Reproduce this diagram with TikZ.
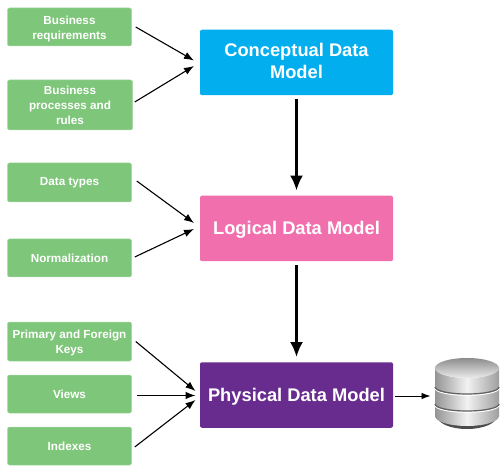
\documentclass[tikz,border=0pt]{standalone}
\usepackage{fontspec}
\setmainfont{Liberation Sans}
\usetikzlibrary{arrows.meta}
\definecolor{inbox}{HTML}{7EC67A}
\definecolor{cblue}{HTML}{03AEEF}
\definecolor{lpink}{HTML}{F26FAE}
\definecolor{ppurple}{HTML}{682C8E}
\tikzset{
  x=1pt,y=-1pt,
  inputbox/.style={draw=inbox!70!white,line width=.5pt,fill=inbox,rounded corners=2pt,inner sep=0pt,text=white,
    font=\fontsize{11.7}{15}\selectfont\bfseries,align=center},
  modelbox/.style={fill=#1,rounded corners=2pt,inner sep=0pt,text=white,minimum width=193pt,minimum height=65.5pt,
    font=\fontsize{18.3}{22}\selectfont\bfseries,align=center},
  feed/.style={line width=1.1pt,-{Latex[length=10pt,width=7.5pt]}},
  flow/.style={line width=2.6pt,-{Latex[length=15pt,width=13pt]}},
}
\newcommand{\inbox}[6]{\node[inputbox,minimum width=#4 pt,minimum height=#5 pt] (#1) at (#2,#3) {#6};}
\begin{document}
\begin{tikzpicture}
\useasboundingbox (0,0) rectangle (504,476);
\inbox{br}{69.5}{27}{124}{38}{\rule{0pt}{11.5pt}Business\\requirements}
\inbox{bp}{70}{105}{125}{50}{Business\\processes and\\rules}
\inbox{dt}{69.5}{182.5}{124}{39}{Data types}
\inbox{nm}{69.5}{258}{124}{38}{Normalization}
\inbox{pf}{69.5}{341.5}{124}{39}{\rule{0pt}{11.5pt}Primary and Foreign\\Keys}
\inbox{vw}{69.5}{394}{124}{38}{Views}
\inbox{ix}{69.5}{446}{124}{38}{Indexes}
\node[modelbox=cblue] (cd) at (296.5,62.5) {Conceptual Data\\Model\rule[-4pt]{0pt}{4pt}};
\node[modelbox=lpink] (ld) at (296.5,228.5) {\rule{0pt}{15.5pt}Logical Data Model};
\node[modelbox=ppurple] (pd) at (296.5,395) {\rule{0pt}{17pt}Physical Data Model};
% connector ends
\coordinate (cin1) at (194,60.5);
\coordinate (cin2) at (194,66);
\coordinate (lin1) at (194,223);
\coordinate (lin2) at (194,229);
\coordinate (pin1) at (195.5,391);
\coordinate (pin2) at (195.5,395.5);
\coordinate (pin3) at (195.5,400);
\draw[feed] ([xshift=4pt]br.east) -- (cin1);
\draw[feed] ([xshift=2pt,yshift=3pt]bp.east) -- (cin2);
\draw[feed] ([xshift=5pt,yshift=1.5pt]dt.east) -- (lin1);
\draw[feed] ([xshift=3pt,yshift=1pt]nm.east) -- (lin2);
\draw[feed] ([xshift=4pt]pf.east) -- (pin1);
\draw[feed] ([xshift=5pt,yshift=-1.5pt]vw.east) -- (pin2);
\draw[feed] ([xshift=3pt,yshift=-1pt]ix.east) -- (pin3);
\draw[flow] ([yshift=-4pt]cd.south) -- ([yshift=5pt]ld.north) ;
\draw[flow] ([yshift=-4pt]ld.south) -- ([yshift=5pt]pd.north);
% database
\coordinate (dbin) at (430.5,396);
\draw[line width=.9pt,-{Latex[length=9pt,width=6.5pt]}] ([xshift=2pt,yshift=-1pt]pd.east) -- (dbin);
\begin{scope}
  \fill[black!70] (437,416) arc[start angle=180,end angle=0,x radius=30,y radius=13] -- cycle;
  \shade[left color=black!42,right color=black!38,middle color=black!5]
    (435,368) -- (435,416) arc[start angle=180,end angle=0,x radius=32,y radius=10] -- (499,368)
    arc[start angle=0,end angle=180,x radius=32,y radius=10] -- cycle;
  \shade[top color=black!45,bottom color=black!8]
    (467,368) ellipse[x radius=32,y radius=10];
  \foreach \yy in {387,404}{
    \draw[white,line width=1pt] (435,\yy+1.3) arc[start angle=180,end angle=0,x radius=32,y radius=7];
    \draw[black!62,line width=1.2pt] (435,\yy) arc[start angle=180,end angle=0,x radius=32,y radius=7];
  }
\end{scope}
\end{tikzpicture}
\end{document}
